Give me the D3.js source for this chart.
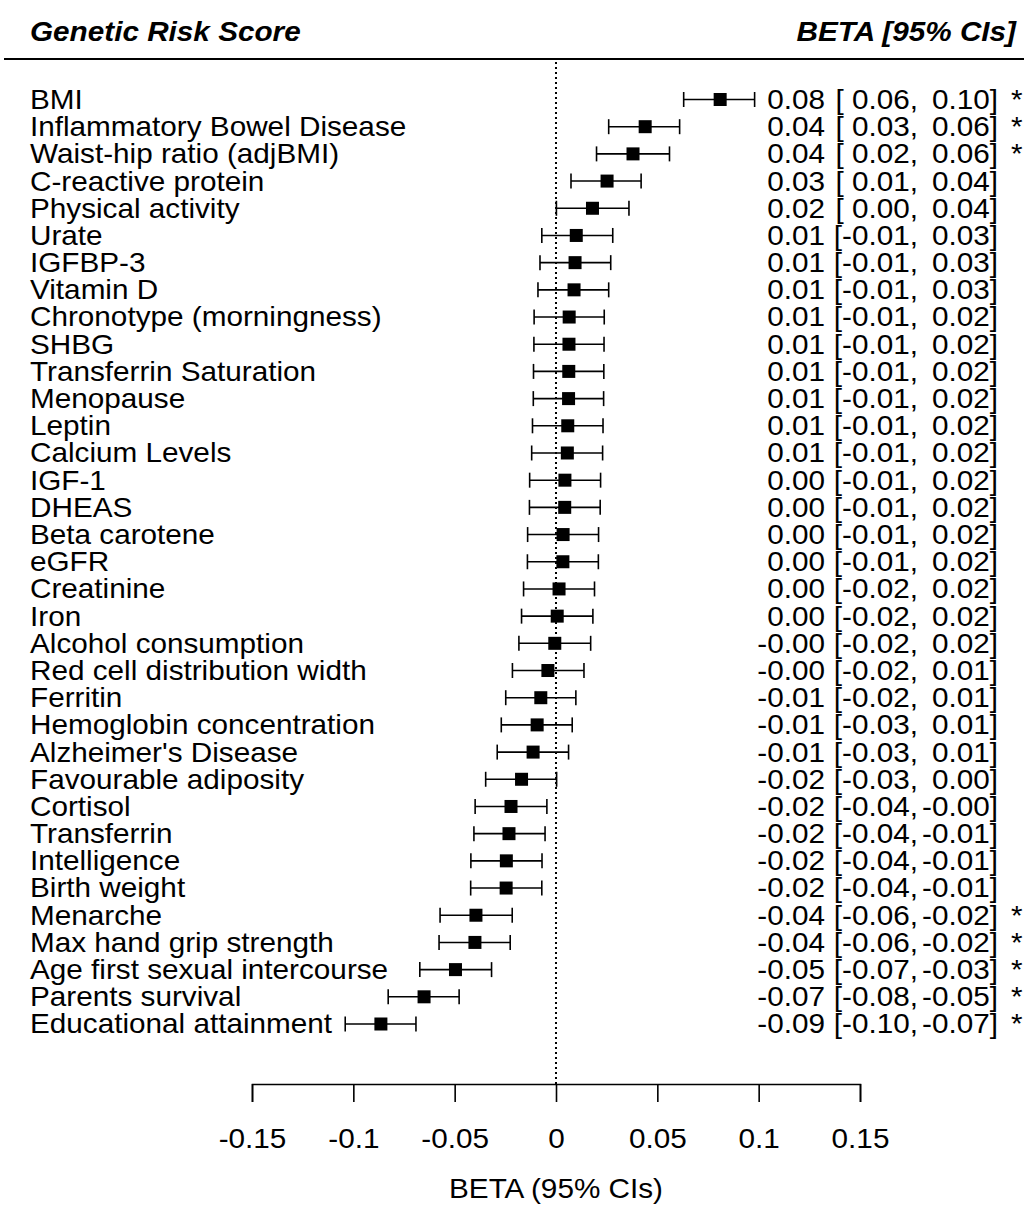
<!DOCTYPE html>
<html>
<head>
<meta charset="utf-8">
<script src="https://cdn.jsdelivr.net/npm/d3@7"></script>
<style>
    body { margin: 0; background: #fff; }
    text { font-family: "Liberation Sans", Arial, sans-serif; fill: #000; }
</style>
</head>
<body>
<div id="chart"></div>
<script>
// Traits (top to bottom)
const traits = [
    'BMI', 'Inflammatory Bowel Disease', 'Waist-hip ratio (adjBMI)', 'C-reactive protein',
    'Physical activity', 'Urate', 'IGFBP-3', 'Vitamin D', 'Chronotype (morningness)', 'SHBG',
    'Transferrin Saturation', 'Menopause', 'Leptin', 'Calcium Levels', 'IGF-1', 'DHEAS',
    'Beta carotene', 'eGFR', 'Creatinine', 'Iron', 'Alcohol consumption',
    'Red cell distribution width', 'Ferritin', 'Hemoglobin concentration', "Alzheimer's Disease",
    'Favourable adiposity', 'Cortisol', 'Transferrin', 'Intelligence', 'Birth weight',
    'Menarche', 'Max hand grip strength', 'Age first sexual intercourse', 'Parents survival',
    'Educational attainment'
];

// Beta estimates and 95% CI bounds
const beta = [
    0.081, 0.044, 0.038, 0.0252, 0.018, 0.010, 0.0094, 0.0089, 0.0065, 0.0064,
    0.0063, 0.0062, 0.0058, 0.0056, 0.0044, 0.0043, 0.0035, 0.0034, 0.0015, 0.0006,
    -0.0006, -0.0040, -0.0075, -0.0093, -0.0113, -0.0170, -0.0222, -0.0232, -0.0245, -0.0246,
    -0.0395, -0.0400, -0.0496, -0.0651, -0.0864
];
const lower = [
    0.063, 0.026, 0.020, 0.0074, 0.0002, -0.007, -0.0079, -0.0089, -0.0108, -0.0109,
    -0.0111, -0.0112, -0.0116, -0.0120, -0.0130, -0.0131, -0.0140, -0.0141, -0.0160, -0.0170,
    -0.0183, -0.0215, -0.0248, -0.0270, -0.0290, -0.0347, -0.0399, -0.0405, -0.0420, -0.0421,
    -0.0572, -0.0577, -0.0672, -0.0828, -0.1040
];
const upper = [
    0.098, 0.061, 0.056, 0.042, 0.036, 0.028, 0.027, 0.026, 0.0238, 0.0237,
    0.0236, 0.0235, 0.0232, 0.0230, 0.0220, 0.0218, 0.0210, 0.0209, 0.0190, 0.0182,
    0.0171, 0.0138, 0.0098, 0.0080, 0.0062, 0.0003, -0.0045, -0.0054, -0.0069, -0.0070,
    -0.0216, -0.0226, -0.0318, -0.0478, -0.0691
];
// Asterisk marks
const significant = [
    true, true, true, false, false, false, false, false, false, false,
    false, false, false, false, false, false, false, false, false, false,
    false, false, false, false, false, false, false, false, false, false,
    true, true, true, true, true
];

const xTicks = [-0.15, -0.1, -0.05, 0, 0.05, 0.1, 0.15];

const width = 1028;
const height = 1205;
const fontSize = 27;
const stretch = 'scale(1.1,1)';   // the original type is a little wide
const axisY = 1084;

const svg = d3.select('#chart')
    .append('svg')
    .attr('width', width)
    .attr('height', height);

svg.append('rect').attr('width', width).attr('height', height).attr('fill', '#fff');

// Scales
const x = d3.scaleLinear().domain([-0.15, 0.15]).range([252, 860]);
const y = d3.scalePoint().domain(d3.range(traits.length)).range([99.5, 1024]);

const rows = traits.map((name, i) => ({
    name: name, beta: beta[i], lo: lower[i], hi: upper[i], sig: significant[i], i: i
}));

const fmt = v => v.toFixed(2);

// place a text at (px, py) with the horizontal stretch
function putText(sel, px, py) {
    return sel.attr('transform', d => {
        const a = typeof px === 'function' ? px(d) : px;
        const b = typeof py === 'function' ? py(d) : py;
        return `translate(${a},${b}) ${stretch}`;
    });
}

// Header
putText(svg.append('text'), 30, 41)
    .attr('font-size', fontSize).attr('font-weight', 'bold').attr('font-style', 'italic')
    .text('Genetic Risk Score');
putText(svg.append('text'), 1016, 41)
    .attr('text-anchor', 'end')
    .attr('font-size', fontSize).attr('font-weight', 'bold').attr('font-style', 'italic')
    .text('BETA [95% CIs]');
svg.append('line')
    .attr('x1', 4).attr('x2', 1024).attr('y1', 59).attr('y2', 59)
    .attr('stroke', '#000').attr('stroke-width', 2);

// Reference line at zero
svg.append('line')
    .attr('x1', x(0)).attr('x2', x(0))
    .attr('y1', 62).attr('y2', axisY)
    .attr('stroke', '#000').attr('stroke-width', 2)
    .attr('stroke-dasharray', '2,3');

// Trait labels
putText(svg.append('g')
    .selectAll('text')
    .data(rows)
    .enter()
    .append('text'), 30, d => y(d.i))
    .attr('dy', '0.35em')
    .attr('font-size', fontSize)
    .text(d => d.name);

// Confidence intervals
const ci = svg.append('g').selectAll('g').data(rows).enter().append('g')
    .attr('stroke', '#000').attr('stroke-width', 1.6);
ci.append('line')
    .attr('x1', d => x(d.lo)).attr('x2', d => x(d.hi))
    .attr('y1', d => y(d.i)).attr('y2', d => y(d.i));
ci.append('line')
    .attr('x1', d => x(d.lo)).attr('x2', d => x(d.lo))
    .attr('y1', d => y(d.i) - 7.5).attr('y2', d => y(d.i) + 7.5);
ci.append('line')
    .attr('x1', d => x(d.hi)).attr('x2', d => x(d.hi))
    .attr('y1', d => y(d.i) - 7.5).attr('y2', d => y(d.i) + 7.5);
ci.append('rect')
    .attr('x', d => x(d.beta) - 6.5)
    .attr('y', d => y(d.i) - 6.5)
    .attr('width', 13).attr('height', 13)
    .attr('stroke', 'none')
    .attr('fill', '#000');

// Annotation columns
const ann = svg.append('g').attr('font-size', fontSize)
    .selectAll('g').data(rows).enter().append('g');
putText(ann.append('text'), 825, d => y(d.i))
    .attr('dy', '0.35em').attr('text-anchor', 'end')
    .text(d => fmt(d.beta));
putText(ann.append('text'), 918, d => y(d.i))
    .attr('dy', '0.35em').attr('text-anchor', 'end')
    .style('white-space', 'pre')
    .text(d => '[' + (d.lo >= 0 ? ' ' : '') + fmt(d.lo) + ',');
putText(ann.append('text'), 998, d => y(d.i))
    .attr('dy', '0.35em').attr('text-anchor', 'end')
    .text(d => fmt(d.hi) + ']');
putText(ann.filter(d => d.sig).append('text'), 1011, d => y(d.i))
    .attr('dy', '0.35em')
    .text('*');

// X axis
const axis = svg.append('g')
    .attr('transform', `translate(0,${axisY})`)
    .call(d3.axisBottom(x).tickValues(xTicks).tickSize(18).tickPadding(0)
        .tickFormat(d => d === 0 ? '0' : String(d)));
axis.select('.domain').attr('stroke', '#000').attr('stroke-width', 1.6);
axis.selectAll('.tick line').attr('stroke', '#000').attr('stroke-width', 1.6);
axis.selectAll('.tick text')
    .attr('y', 0).attr('dy', 0)
    .attr('transform', `translate(0,64) ${stretch}`)
    .attr('font-size', fontSize)
    .attr('font-family', '"Liberation Sans", Arial, sans-serif')
    .attr('fill', '#000');

putText(svg.append('text'), x(0), 1198)
    .attr('text-anchor', 'middle')
    .attr('font-size', fontSize)
    .text('BETA (95% CIs)');
</script>
</body>
</html>
